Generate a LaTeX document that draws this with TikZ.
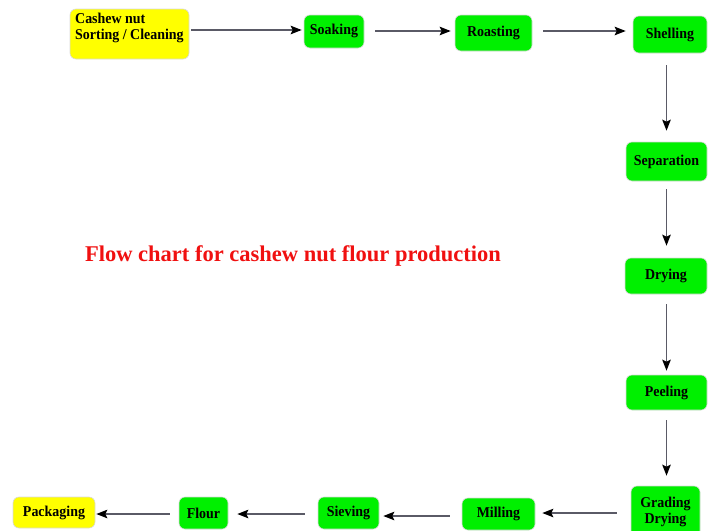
\documentclass[tikz,border=0pt]{standalone}
\usepackage{fontspec}
\setmainfont{Liberation Serif}
\newfontfamily\stepfont[FakeStretch=0.93]{Liberation Serif}
\usetikzlibrary{arrows.meta}
\definecolor{stepgreen}{HTML}{00F000}
\definecolor{stepyellow}{HTML}{FFFF00}
\definecolor{titlered}{HTML}{F01010}
\definecolor{linegray}{HTML}{5A5A66}
\tikzset{
  stepbox/.style={draw=black!15, line width=0.6pt, rounded corners=6pt, fill=stepgreen,
    font=\stepfont\bfseries\fontsize{15}{16.5}\selectfont, inner sep=0pt, align=center},
  endbox/.style={stepbox, fill=stepyellow},
  flow/.style={draw=linegray, line width=1.5pt,
    -{Stealth[length=11pt, width=8.5pt, inset=2pt, black]}},
}
\begin{document}
\begin{tikzpicture}[x=1pt, y=-1pt]
\useasboundingbox (0,0) rectangle (708,530);

% first row
\node[endbox, minimum width=119pt, minimum height=50pt] (clean) at (129.5,34) {};
\node[anchor=north west, align=left, inner sep=0pt, font=\stepfont\bfseries\fontsize{15}{16.5}\selectfont]
  (cleantext) at (75,12.5) {Cashew nut\\Sorting / Cleaning};
\node[stepbox, minimum width=60pt, minimum height=33pt, text height=15pt, text depth=9pt] (soak) at (334,31.5) {Soaking};
\node[stepbox, minimum width=77pt, minimum height=36pt] (roast) at (493.5,33) {Roasting};
\node[stepbox, minimum width=74pt, minimum height=37pt] (shell) at (670,34.5) {Shelling};

% right column
\node[stepbox, minimum width=81pt, minimum height=39pt] (sep) at (666.5,161.5) {Separation};
\node[stepbox, minimum width=82pt, minimum height=36pt] (dry) at (666,276) {Drying};
\node[stepbox, minimum width=81pt, minimum height=35pt] (peel) at (666.5,392.5) {Peeling};
\node[stepbox, minimum width=69pt, minimum height=52pt] (grade) at (665.5,512) {Grading\\Drying};

% bottom row
\node[stepbox, minimum width=73pt, minimum height=32pt] (mill) at (498.5,514) {Milling};
\node[stepbox, minimum width=61pt, minimum height=32pt] (sieve) at (348.5,513) {Sieving};
\node[stepbox, minimum width=49pt, minimum height=32pt] (flour) at (203.5,513) {Flour};
\node[endbox, minimum width=82pt, minimum height=31pt] (pack) at (54,512.5) {Packaging};

% heading
\node[text=titlered, font=\bfseries\fontsize{22.5}{26}\selectfont, inner sep=0pt] (title) at (293,256)
  {Flow chart for cashew nut flour production};

% connectors
\draw[flow, shorten <=2pt, shorten >=2pt] (clean.east |- 0,30) -- (soak.west |- 0,30);
\draw[flow, shorten <=11pt, shorten >=4pt] (soak.east |- 0,31) -- (roast.west |- 0,31);
\draw[flow, shorten <=11pt, shorten >=7pt] (roast.east |- 0,31) -- (shell.west |- 0,31);

\draw[flow, shorten <=12pt, shorten >=11pt] (sep.north |- shell.south) -- (sep.north);
\draw[flow, shorten <=8pt, shorten >=12pt] (sep.south) -- (dry.north -| sep.south);
\draw[flow, shorten <=10pt, shorten >=4pt] (dry.south -| peel.north) -- (peel.north);
\draw[flow, shorten <=10pt, shorten >=10pt] (peel.south) -- (grade.north -| peel.south);

\draw[flow, shorten <=14pt, shorten >=7pt] (grade.west |- 0,513) -- (mill.east |- 0,513);
\draw[flow, shorten <=12pt, shorten >=4pt] (mill.west |- 0,516) -- (sieve.east |- 0,516);
\draw[flow, shorten <=13pt, shorten >=9pt] (sieve.west |- 0,514) -- (flour.east |- 0,514);
\draw[flow, shorten <=9pt, shorten >=1pt] (flour.west |- 0,514) -- (pack.east |- 0,514);
\end{tikzpicture}
\end{document}
